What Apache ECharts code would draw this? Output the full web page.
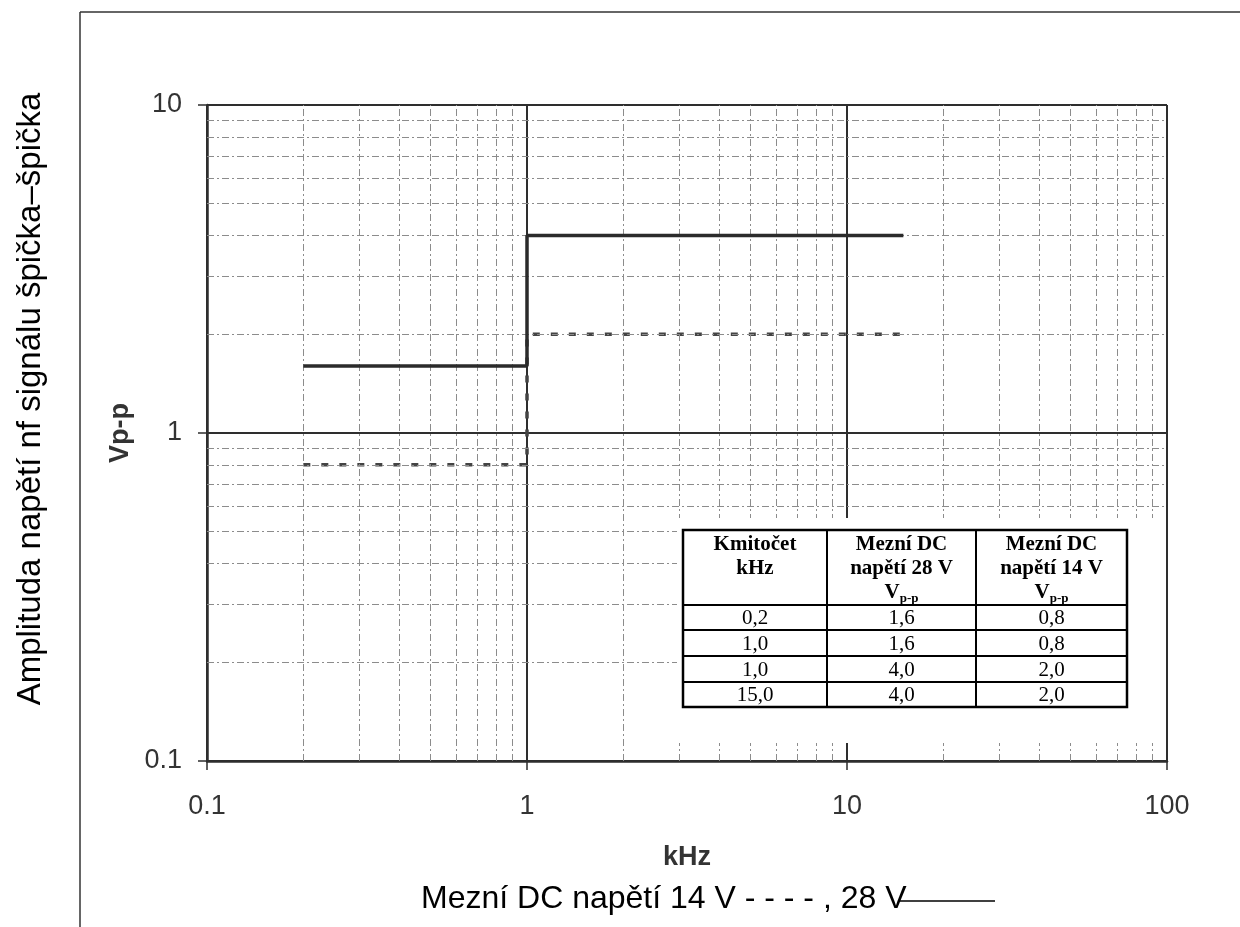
<!DOCTYPE html>
<html>
<head>
<meta charset="utf-8">
<script src="https://cdn.jsdelivr.net/npm/echarts@6/dist/echarts.min.js"></script>
<style>
html,body{margin:0;padding:0;background:#fff;}
#chart{width:1240px;height:927px;}
</style>
</head>
<body>
<div id="chart"></div>
<script>
// ---- data ----
var freqKHz = [0.2, 1.0, 1.0, 15.0];
var limit28V = [1.6, 1.6, 4.0, 4.0];
var limit14V = [0.8, 0.8, 2.0, 2.0];
var xMinorTicks = [0.2,0.3,0.4,0.5,0.6,0.7,0.8,0.9,2,3,4,5,6,7,8,9,20,30,40,50,60,70,80,90];
var yMinorTicks = [0.2,0.3,0.4,0.5,0.6,0.7,0.8,0.9,2,3,4,5,6,7,8,9];
var xTickLabels = ['0.1','1','10','100'];
var yTickLabels = ['0.1','1','10'];
var tableHeader = [['Kmitočet','kHz'],['Mezní DC','napětí 28 V','V'],['Mezní DC','napětí 14 V','V']];

function fmtNum(v){ return String(+(+v).toPrecision(6)); }
function fmtComma(v){ return v.toFixed(1).replace('.', ','); }

var chart = echarts.init(document.getElementById('chart'), null, {renderer:'canvas'});

var sans = 'Liberation Sans';
var serif = 'Liberation Serif';
var ink = '#2e2e2e';

// table layout (pixels)
var tX = [683, 827, 976, 1127];
var tY = [530, 605, 630, 656, 682, 707];

var g = [];
// white box behind table
g.push({type:'rect', z:100, shape:{x:677, y:518, width:488, height:225}, style:{fill:'#fff'}});
// table texts
for (var c=0;c<3;c++){
  var h = tableHeader[c];
  var rt = '{b|' + h[0] + '}\n{b|' + h[1] + '}';
  if (h[2]) rt += '\n{b|' + h[2] + '}{s|p-p}';
  g.push({type:'text', z:102, x:(tX[c]+tX[c+1])/2, y:533,
    style:{text:rt, align:'center', verticalAlign:'top', fill:'#000',
      rich:{
        b:{fontFamily:serif, fontWeight:'bold', fontSize:21, lineHeight:24, fill:'#000'},
        s:{fontFamily:serif, fontWeight:'bold', fontSize:13, lineHeight:24, verticalAlign:'bottom', padding:[9,0,0,0], fill:'#000'}
      }}});
}
var cols = [freqKHz, limit28V, limit14V];
for (var r=0;r<freqKHz.length;r++){
  for (var c2=0;c2<3;c2++){
    g.push({type:'text', z:102, x:(tX[c2]+tX[c2+1])/2, y:(tY[r+1]+tY[r+2])/2+1,
      style:{text:fmtComma(cols[c2][r]), align:'center', verticalAlign:'middle',
        fontFamily:serif, fontSize:21, fill:'#000'}});
  }
}
// table lines
g.push({type:'rect', z:103, shape:{x:tX[0], y:tY[0], width:tX[3]-tX[0], height:tY[5]-tY[0]},
  style:{fill:null, stroke:'#000', lineWidth:2.5}});
for (var i=1;i<3;i++) g.push({type:'line', z:103, shape:{x1:tX[i],y1:tY[0],x2:tX[i],y2:tY[5]}, style:{stroke:'#000', lineWidth:2}});
for (var j=1;j<5;j++) g.push({type:'line', z:103, shape:{x1:tX[0],y1:tY[j],x2:tX[3],y2:tY[j]}, style:{stroke:'#000', lineWidth:2}});

// outer frame
g.push({type:'line', z:50, shape:{x1:80,y1:12,x2:1240,y2:12}, style:{stroke:'#333', lineWidth:1.5}});
g.push({type:'line', z:50, shape:{x1:80,y1:12,x2:80,y2:927}, style:{stroke:'#333', lineWidth:1.5}});
// left rotated title
g.push({type:'text', z:50, x:31, y:399, rotation:Math.PI/2,
  style:{text:'Amplituda napětí nf signálu špička–špička', align:'center', verticalAlign:'middle',
    fontFamily:sans, fontSize:33, fill:'#000'}});
// bottom legend text
g.push({type:'text', z:50, x:421, y:899,
  style:{text:'Mezní DC napětí 14 V - - - - , 28 V', align:'left', verticalAlign:'middle',
    fontFamily:sans, fontSize:32, fill:'#000'}});
g.push({type:'line', z:50, shape:{x1:899,y1:901,x2:995,y2:901}, style:{stroke:'#000', lineWidth:1.5}});

var option = {
  animation:false,
  backgroundColor:'#fff',
  grid:{left:207, top:105, width:960, height:656, containLabel:false},
  xAxis:{
    type:'log', logBase:10, min:0.1, max:100,
    name:'kHz', nameLocation:'middle', nameGap:83,
    nameTextStyle:{fontFamily:sans, fontWeight:'bold', fontSize:27, color:'#333'},
    axisLine:{show:true, lineStyle:{color:ink, width:2.5}},
    axisTick:{show:true, inside:false, length:9, lineStyle:{color:ink, width:1.5}},
    axisLabel:{show:true, margin:32, fontFamily:sans, fontSize:27, color:'#333',
      formatter:function(v){ var s=fmtNum(v); return xTickLabels.indexOf(s)>=0 ? s : ''; }},
    splitLine:{show:true, lineStyle:{color:ink, width:2}},
    minorTick:{show:false}, minorSplitLine:{show:false}
  },
  yAxis:{
    type:'log', logBase:10, min:0.1, max:10,
    name:'Vp-p', nameLocation:'middle', nameGap:69, nameRotate:90,
    nameTextStyle:{fontFamily:sans, fontWeight:'bold', fontSize:27, color:'#333'},
    axisLine:{show:true, lineStyle:{color:ink, width:2.5}},
    axisTick:{show:true, inside:false, length:9, lineStyle:{color:ink, width:1.5}},
    axisLabel:{show:true, margin:25, fontFamily:sans, fontSize:27, color:'#333',
      formatter:function(v){ var s=fmtNum(v); return yTickLabels.indexOf(s)>=0 ? s : ''; }},
    splitLine:{show:true, lineStyle:{color:ink, width:2}}
  },
  series:[
    {
      name:'grid', type:'line', data:[], z:1, silent:true,
      markLine:{
        silent:true, symbol:['none','none'], animation:false,
        label:{show:false},
        lineStyle:{color:'#8c8c8c', type:[7,3,2,3], width:1},
        emphasis:{disabled:true},
        data: xMinorTicks.map(function(v){return {xAxis:v};}).concat(
              yMinorTicks.map(function(v){return {yAxis:v};}))
      }
    },
    {
      name:'28 V', type:'line', z:5, symbol:'none', silent:true,
      data: freqKHz.map(function(f,i){return [f, limit28V[i]];}),
      lineStyle:{color:'#2b2b2b', width:3.5}
    },
    {
      name:'14 V', type:'line', z:4, symbol:'none', silent:true,
      data: freqKHz.map(function(f,i){return [f, limit14V[i]];}),
      lineStyle:{color:'#444', width:3.5, type:[7,11]}
    }
  ],
  graphic: g
};
chart.setOption(option);
</script>
</body>
</html>
